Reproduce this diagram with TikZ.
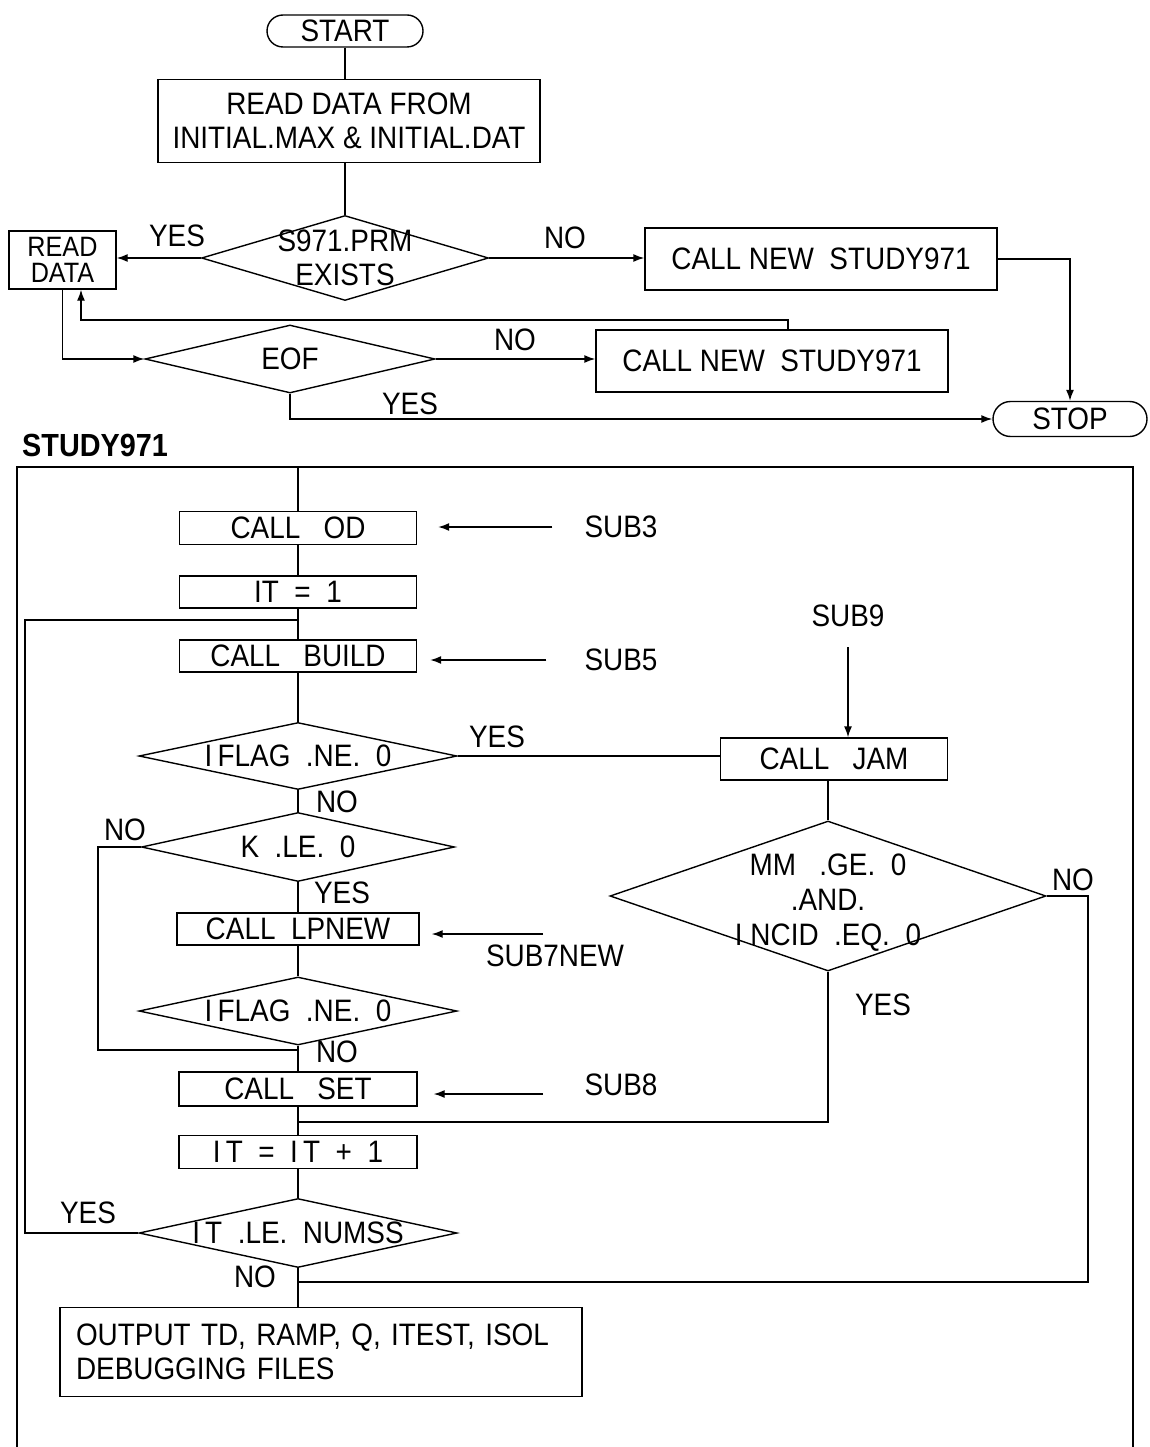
\documentclass[tikz,border=0pt]{standalone}
\usepackage{fontspec}
\setmainfont{Liberation Sans}[FakeStretch=0.9]
\usetikzlibrary{shapes.geometric,shapes.misc,arrows.meta}
\newcommand\mf{\fontsize{31}{34}\selectfont}
\tikzset{
  base/.style={draw, line width=1.4pt, inner sep=0pt, font=\mf, align=center},
  term/.style={base, rounded rectangle},
  dia/.style={base, diamond},
  lbl/.style={font=\mf, inner sep=0pt, align=center},
  conn/.style={line width=1.4pt},
  arr/.style={conn, -{Latex[length=11pt,width=8pt]}},
}
\begin{document}
\begin{tikzpicture}[x=1pt,y=-1pt]
\useasboundingbox (0,0) rectangle (1150,1447);
% ---------- top part ----------
\node[term, minimum width=156pt, minimum height=32pt] (start) at (345,31) {START};
\node[base, minimum width=382pt, minimum height=83pt] (readfrom) at (349,121) {READ DATA FROM\\INITIAL.MAX \& INITIAL.DAT};
\node[dia, minimum width=287pt, minimum height=85pt, label={[lbl]center:{S971.PRM\\EXISTS}}] (s971) at (345,258) {};
\node[base, minimum width=107pt, minimum height=58pt, font={\fontsize{28}{26}\selectfont}] (readdata) at (62.5,260) {READ\\DATA};
\node[base, minimum width=352pt, minimum height=62pt] (callnew1) at (821,259) {CALL NEW~~STUDY971};
\node[dia, minimum width=290pt, minimum height=68pt, label={[lbl]center:EOF}] (eof) at (290,359) {};
\node[base, minimum width=352pt, minimum height=62pt] (callnew2) at (772,361) {CALL NEW~~STUDY971};
\node[term, minimum width=154pt, minimum height=35pt] (stop) at (1070,419) {STOP};

\node[lbl] (yes1) at (177,236) {YES};
\node[lbl] (no1) at (565,238) {NO};
\node[lbl] (no2) at (515,340) {NO};
\node[lbl] (yes2) at (410,404) {YES};

\draw[conn] (start.south) -- (start.south |- readfrom.north);
\draw[conn] (readfrom.south -| s971.north) -- (s971.north);
\draw[arr] (s971.west) -- (s971.west -| readdata.east);
\draw[arr] (s971.east) -- (s971.east -| callnew1.west);
\draw[arr] (callnew1.east) -| (stop.north);
\draw[arr] (readdata.south) |- (eof.west);
\coordinate (fb1) at (788,320);
\coordinate (fb2) at (81,320);
\draw[arr] (callnew2.north -| fb1) -- (fb1) -- (fb2) -- (fb2 |- readdata.south);
\draw[arr] (eof.east) -- (eof.east -| callnew2.west);
\draw[arr] (eof.south) |- (stop.west);

% ---------- STUDY971 frame ----------
\node[lbl, anchor=west, font={\fontsize{32}{34}\selectfont\bfseries}] (title) at (22,445) {STUDY971};
\coordinate (fbl) at (17,1447);
\coordinate (ftl) at (17,467);
\coordinate (ftr) at (1133,467);
\coordinate (fbr) at (1133,1447);
\draw[conn] (fbl) -- (ftl) -- (ftr) -- (fbr);

\node[base, minimum width=237pt, minimum height=33pt] (od) at (298,528) {CALL~~~OD};
\node[base, minimum width=237pt, minimum height=32pt] (it1) at (298,592) {IT~~=~~1};
\node[base, minimum width=237pt, minimum height=32pt] (build) at (298,656) {CALL~~~BUILD};
\node[dia, minimum width=318pt, minimum height=67pt, label={[lbl]center:{I\,FLAG~~.NE.~~0}}] (iflag1) at (298,756) {};
\node[dia, minimum width=313pt, minimum height=69pt, label={[lbl]center:{K~~.LE.~~0}}] (kle) at (298,847) {};
\node[base, minimum width=242pt, minimum height=32pt] (lpnew) at (298,929) {CALL~~LPNEW};
\node[dia, minimum width=318pt, minimum height=68pt, label={[lbl]center:{I\,FLAG~~.NE.~~0}}] (iflag2) at (298,1011) {};
\node[base, minimum width=238pt, minimum height=34pt] (set) at (298,1089) {CALL~~~SET};
\node[base, minimum width=238pt, minimum height=33pt] (itinc) at (298,1152) {I\,T~~=~~I\,T~~+~~1};
\node[dia, minimum width=318pt, minimum height=69pt, label={[lbl]center:{I\,T~~.LE.~~NUMSS}}] (numss) at (298,1233) {};
\node[base, minimum width=522pt, minimum height=89pt, align=left, text width=490pt] (output) at (321,1352) {OUTPUT TD, RAMP, Q, ITEST, ISOL\\DEBUGGING FILES};

\node[base, minimum width=227pt, minimum height=42pt] (jam) at (834,759) {CALL~~~JAM};
\node[dia, minimum width=436pt, minimum height=150pt, label={[lbl, yshift=-7pt, font={\fontsize{31}{35}\selectfont}]center:{MM~~~.GE.~~0\\.AND.\\I~NCID~~.EQ.~~0}}] (mm) at (828,896) {};

\node[lbl] (sub3) at (621,527) {SUB3};
\node[lbl] (sub5) at (621,660) {SUB5};
\node[lbl] (sub9) at (848,616) {SUB9};
\node[lbl] (sub7) at (555,956) {SUB7NEW};
\node[lbl] (sub8) at (621,1085) {SUB8};

\node[lbl] (yes3) at (497,737) {YES};
\node[lbl] (no3) at (337,802) {NO};
\node[lbl] (no4) at (125,830) {NO};
\node[lbl] (yes4) at (342,893) {YES};
\node[lbl] (no7) at (1073,880) {NO};
\node[lbl] (yes6) at (883,1005) {YES};
\node[lbl] (no5) at (337,1052) {NO};
\node[lbl] (yes5) at (88,1213) {YES};
\node[lbl] (no6) at (255,1277) {NO};

% main column
\draw[conn] (od.north |- ftl) -- (od.north);
\draw[conn] (od) -- (it1);
\draw[conn] (it1) -- (build);
\draw[conn] (build.south) -- (iflag1.north);
\draw[conn] (iflag1.south) -- (kle.north);
\draw[conn] (kle.south) -- (lpnew.north);
\draw[conn] (lpnew.south) -- (iflag2.north);
\draw[conn] (iflag2.south) -- (set.north);
\draw[conn] (set) -- (itinc);
\draw[conn] (itinc.south) -- (numss.north);
\draw[conn] (numss.south) -- (numss.south |- output.north);

% loops
\coordinate (lp) at (25,620);
\coordinate (j1) at (298,620);
\draw[conn] (numss.west) -| (lp) -- (j1);
\coordinate (kl) at (98,1050);
\coordinate (j2) at (298,1050);
\draw[conn] (kle.west) -| (kl) -- (j2);
\draw[conn] (iflag1.east) -- (iflag1.east -| jam.west);
\draw[arr, shorten <=20pt] (sub9.south) -- (sub9.south |- jam.north);
\draw[conn] (jam.south -| mm.north) -- (mm.north);
\coordinate (j3) at (298,1122);
\draw[conn] (mm.south) |- (j3);
\coordinate (nob) at (1088,1282);
\coordinate (j4) at (298,1282);
\draw[conn] (mm.east) -| (nob) -- (j4);

% SUB arrows
\draw[arr, shorten <=32pt, shorten >=21pt] (sub3.west) -- (sub3.west -| od.east);
\draw[arr, shorten <=38pt, shorten >=13pt] (sub5.west) -- (sub5.west -| build.east);
\coordinate (s7) at (543,934);
\draw[arr, shorten >=12pt] (s7) -- (s7 -| lpnew.east);
\coordinate (s8) at (543,1094);
\draw[arr, shorten >=16pt] (s8) -- (s8 -| set.east);
\end{tikzpicture}
\end{document}
